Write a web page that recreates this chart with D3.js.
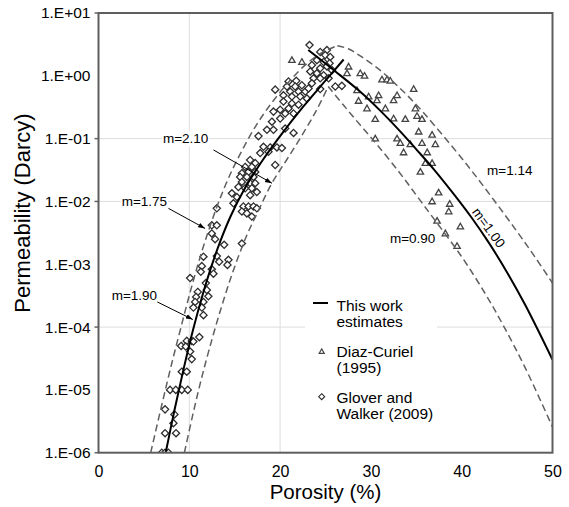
<!DOCTYPE html>
<html>
<head>
<meta charset="utf-8">
<script src="https://cdn.jsdelivr.net/npm/d3@7"></script>
<style>
  body { margin: 0; background: #fff; }
  svg text { font-family: "Liberation Sans", Arial, sans-serif; fill: #000; }
</style>
</head>
<body>
<div id="chart"></div>
<script>
// every pair is [porosity (%), log10 permeability (Darcy)]
const thisWorkLeft = [[7.4,-6],[8.4,-5.3],[9.4,-4.65],[10.4,-4.05],[11.4,-3.52],[12.4,-3.05],[13.4,-2.64],[14.6,-2.22],[16,-1.82],[18,-1.36],[20,-0.96],[22.5,-0.5],[24.8,-0.11],[27,0.26]];
const thisWorkRight = [[23.1,0.41],[26,0.08],[28.8,-0.25],[31,-0.55],[33.2,-0.88],[35,-1.17],[37,-1.5],[39,-1.86],[41,-2.24],[43,-2.66],[45,-3.13],[47,-3.65],[50,-4.52]];
const m175 = [[5.75,-6],[7,-5.22],[8.1,-4.56],[9,-4.05],[9.9,-3.55],[10.8,-3.08],[11.7,-2.65],[13,-2.1],[14.1,-1.7],[15.2,-1.36],[17.4,-0.78],[20,-0.26],[22.6,0.15],[24.6,0.37],[26.3,0.48]];
const m114 = [[26.3,0.48],[27.5,0.43],[29,0.3],[31,0.09],[33,-0.17],[35,-0.46],[37,-0.79],[40.6,-1.42],[43.5,-1.97],[46.1,-2.48],[48,-2.87],[50,-3.3]];
const m210 = [[9.46,-6],[10.3,-5.45],[11.2,-4.9],[12.2,-4.35],[13.5,-3.7],[14.8,-3.12],[16.3,-2.55],[17.6,-2.15],[19.1,-1.71],[20.8,-1.32],[22.4,-0.95],[24,-0.55],[25.3,-0.17]];
const m090 = [[25.3,-0.17],[27,-0.47],[28.8,-0.78],[30.7,-1.1],[33.2,-1.55],[35,-1.9],[36.9,-2.27],[39.9,-2.86],[42.6,-3.47],[44.6,-3.98],[47,-4.65],[50,-5.59]];

const diazCuriel = [[21.3,0.25],[22.4,0.22],[27.54,0.145],[27.37,0.04],[28.83,0.04],[29.3,0.0],[28.47,-0.23],[28.64,-0.4],
  [31.22,-0.06],[31.77,-0.06],[32.14,-0.08],[34.71,-0.21],[29.75,-0.33],[30.85,-0.31],[30.67,-0.39],[32.5,-0.39],[32.88,-0.31],
  [29.57,-0.52],[31.59,-0.52],[34.9,-0.52],[30.48,-0.69],[32.5,-0.68],[33.79,-0.69],[35.08,-0.64],[35.63,-0.69],[35.26,-0.89],
  [36.74,-0.94],[30.48,-1.0],[32.88,-1.0],[33.24,-1.07],[34.34,-1.09],[35.63,-1.07],[37.1,-1.09],[33.6,-1.22],[36.2,-1.22],
  [36.0,-1.39],[36.74,-1.39],[35.45,-1.53],[37.46,-1.86],[36.74,-2.0],[38.68,-2.04],[38.57,-2.16],[39.85,-2.4],[37.29,-2.31],
  [38.2,-2.51],[39.49,-2.71]];

const gloverWalker = [[12.84,-2.6],[13.84,-2.69],[15.79,-2.67],[11.56,-2.88],[13.03,-2.87],[14.31,-2.93],[13.29,-2.96],[11.38,-3.03],
  [12.48,-3.08],[11.27,-3.12],[14.2,-3.01],[12.66,-3.15],[10.09,-3.22],[11.82,-3.3],[10.93,-3.44],[11.93,-3.41],[10.75,-3.52],
  [12.1,-3.51],[10.64,-3.6],[11.56,-3.6],[10.45,-3.69],[11.38,-3.69],[11.56,-3.81],[11.11,-4.16],[9.72,-4.22],[10.27,-4.22],
  [9.1,-4.3],[9.61,-4.31],[10.45,-4.23],[10.09,-4.39],[10.27,-4.51],[9.17,-4.71],[9.72,-4.71],[7.88,-5],[8.51,-5],[9.17,-5],
  [9.83,-5],[7.33,-5.31],[8.36,-5.39],[8.25,-5.53],[7.33,-5.69],[8.54,-5.69],[6.97,-6],[7.33,-6],[7.7,-6],
  [20.93,-0.09],[21.78,-0.08],[20.75,-0.17],[21.66,-0.17],[22.4,-0.15],[21.11,-0.25],[22.03,-0.25],[22.77,-0.25],[19.46,-0.22],
  [20.37,-0.31],[21.3,-0.33],[22.21,-0.33],[22.95,-0.36],[20.37,-0.41],[21.3,-0.44],[22.03,-0.46],[20.93,-0.52],[20.01,-0.54],
  [19.27,-0.57],[20.56,-0.6],[21.48,-0.6],[20.01,-0.68],[19.1,-0.73],[20.56,-0.84],[18.55,-0.86],[19.27,-0.86],[17.62,-0.96],
  [21.48,-0.91],[18.17,-1.13],[18.91,-1.14],[19.65,-1.14],[18.72,-1.21],[17.81,-1.23],[20.2,-1.15],[19.46,-1.42],[16.7,-1.34],
  [17.26,-1.39],[16.15,-1.45],[16.89,-1.45],[16.52,-1.53],[15.79,-1.55],[17.26,-1.53],[15.6,-1.61],[16.34,-1.61],[17.07,-1.61],
  [15.79,-1.69],[16.7,-1.71],[17.26,-1.71],[15.41,-1.77],[16.15,-1.79],[16.89,-1.79],[14.69,-1.87],[15.24,-1.93],[16.7,-1.9],
  [17.44,-1.85],[14.86,-2.03],[15.96,-2.08],[16.52,-2.08],[17.07,-2.08],[15.79,-2.16],[16.34,-2.19],[17.44,-2.11],[16.89,-2.24],
  [13.03,-2.11],[12.48,-2.38],[13.03,-2.38],[12.48,-2.51],
  [23.24,0.49],[24.42,0.38],[25.16,0.41],[24.97,0.33],[25.52,0.3],[24.05,0.25],[24.79,0.22],[25.45,0.2],[23.5,0.17],
  [24.42,0.12],[25.16,0.15],[25.71,0.09],[23.32,0.07],[24.05,0.04],[24.79,0.01],[23.68,-0.04],[24.42,-0.04],[25.34,-0.04],
  [26.08,-0.17],[26.8,-0.16],[24.42,-0.21],[23.5,-0.12],[23.13,-0.2]];

const xTicks = [0, 10, 20, 30, 40, 50];
const yDecades = [1, 0, -1, -2, -3, -4, -5, -6];
const yTickLabels = ["1.E+01", "1.E+00", "1.E-01", "1.E-02", "1.E-03", "1.E-04", "1.E-05", "1.E-06"];
const xGrid = [10, 20];
const yGrid = [-1, -2, -4];

const labelText = ["m=2.10", "m=1.75", "m=1.90", "m=1.14", "m=0.90"];
const labelAt = [[7.1, -1.0], [2.55, -2.0], [1.45, -3.49], [42.8, -1.5], [32.1, -2.59]];
const arrowFrom = [[12.66, -1.18], [7.7, -2.11], [6.48, -3.6]];
const arrowTo = [[19.1, -1.71], [11.74, -2.43], [10.39, -3.88]];
const rotatedLabel = "m=1.00";
const rotatedAt = [42.2, -2.5];

const legendNames = [["This work", "estimates"], ["Diaz-Curiel", "(1995)"], ["Glover and", "Walker (2009)"]];

function init() {
    var w = 569;
    var h = 507;
    var left = 98.5, right = 552.5, top = 13, bottom = 452.7;

    var svg = d3.select("#chart").append("svg")
        .attr("width", w)
        .attr("height", h);

    var x = d3.scaleLinear().domain([0, 50]).range([left, right]);
    var y = d3.scaleLog().domain([1e-6, 10]).range([bottom, top]);
    var yv = d => y(Math.pow(10, d));

    var defs = svg.append("defs");
    defs.append("clipPath").attr("id", "plot")
        .append("rect").attr("x", left).attr("y", top)
        .attr("width", right - left).attr("height", bottom - top);

    defs.append("marker")
        .attr("id", "arrow").attr("viewBox", "0 0 10 10")
        .attr("refX", 10).attr("refY", 5)
        .attr("markerWidth", 7).attr("markerHeight", 7)
        .attr("orient", "auto")
        .append("path").attr("d", "M0,1.5L10,5L0,8.5z").attr("fill", "#000");

    // grid
    svg.append("g").selectAll("line").data(xGrid).join("line")
        .attr("x1", d => x(d)).attr("x2", d => x(d))
        .attr("y1", top).attr("y2", bottom)
        .attr("stroke", "#dcdcdc").attr("stroke-width", 1);
    svg.append("g").selectAll("line").data(yGrid).join("line")
        .attr("x1", left).attr("x2", right)
        .attr("y1", d => yv(d)).attr("y2", d => yv(d))
        .attr("stroke", "#dcdcdc").attr("stroke-width", 1);

    // axes
    var yAxis = d3.axisLeft(y)
        .tickValues(yDecades.map(d => Math.pow(10, d)))
        .tickFormat((d, i) => yTickLabels[i])
        .tickSize(0).tickPadding(8);
    var gy = svg.append("g").attr("transform", `translate(${left},0)`).call(yAxis);
    gy.select(".domain").remove();
    gy.selectAll("text").style("font-size", "15.5px").attr("fill", "#000");

    svg.append("g").selectAll("line").data([1, -1, -2, -4, -6]).join("line")
        .attr("x1", left - 4).attr("x2", left)
        .attr("y1", d => yv(d)).attr("y2", d => yv(d))
        .attr("stroke", "#666").attr("stroke-width", 1.5);

    var xAxis = d3.axisBottom(x).tickValues(xTicks).tickSize(0).tickPadding(13);
    var gx = svg.append("g").attr("transform", `translate(0,${bottom})`).call(xAxis);
    gx.select(".domain").remove();
    gx.selectAll("text").style("font-size", "16px").attr("fill", "#000");

    // points
    var pts = svg.append("g").attr("clip-path", "url(#plot)");
    pts.selectAll(".tri").data(diazCuriel).join("path")
        .attr("class", "tri")
        .attr("transform", d => `translate(${x(d[0])},${yv(d[1])})`)
        .attr("d", "M0,-3.3L3.2,2.3L-3.2,2.3Z")
        .attr("fill", "#fff").attr("stroke", "#444").attr("stroke-width", 1.3);
    pts.selectAll(".dia").data(gloverWalker).join("path")
        .attr("class", "dia")
        .attr("transform", d => `translate(${x(d[0])},${yv(d[1])})`)
        .attr("d", "M0,-3.6L3.6,0L0,3.6L-3.6,0Z")
        .attr("fill", "#fff").attr("stroke", "#2e2e2e").attr("stroke-width", 1.3);

    // curves
    var line = d3.line().x(d => x(d[0])).y(d => yv(d[1])).curve(d3.curveCatmullRom.alpha(0.5));
    var curves = svg.append("g").attr("clip-path", "url(#plot)");
    [m175, m114, m210, m090].forEach(c => {
        curves.append("path").datum(c).attr("d", line)
            .attr("fill", "none").attr("stroke", "#606060")
            .attr("stroke-width", 1.5).attr("stroke-dasharray", "7,4");
    });
    [thisWorkLeft, thisWorkRight].forEach(c => {
        curves.append("path").datum(c).attr("d", line)
            .attr("fill", "none").attr("stroke", "#000").attr("stroke-width", 2);
    });

    // frame
    svg.append("rect")
        .attr("x", left).attr("y", top)
        .attr("width", right - left).attr("height", bottom - top)
        .attr("fill", "none").attr("stroke", "#5e5e5e").attr("stroke-width", 2);

    // m labels
    var labels = svg.append("g");
    labelText.forEach((t, i) => {
        var g = labels.append("g");
        var txt = g.append("text")
            .attr("x", x(labelAt[i][0])).attr("y", yv(labelAt[i][1]))
            .attr("dy", "0.35em")
            .style("font-size", "13.5px")
            .text(t);
        var b = txt.node().getBBox();
        g.insert("rect", "text")
            .attr("x", b.x - 1).attr("y", b.y)
            .attr("width", b.width + 2).attr("height", b.height)
            .attr("fill", "#fff");
    });
    arrowFrom.forEach((a, i) => {
        labels.append("line")
            .attr("x1", x(a[0])).attr("y1", yv(a[1]))
            .attr("x2", x(arrowTo[i][0])).attr("y2", yv(arrowTo[i][1]))
            .attr("stroke", "#000").attr("stroke-width", 1)
            .attr("marker-end", "url(#arrow)");
    });
    labels.append("text")
        .attr("transform", `translate(${x(rotatedAt[0])},${yv(rotatedAt[1])}) rotate(54)`)
        .attr("text-anchor", "middle").attr("dy", "-0.3em")
        .style("font-size", "13.5px")
        .text(rotatedLabel);

    // legend
    var lg = svg.append("g").attr("transform", "translate(305,292)");
    lg.append("rect").attr("width", 132).attr("height", 130).attr("fill", "#fff");
    lg.append("line").attr("x1", 8).attr("x2", 23).attr("y1", 11).attr("y2", 11)
        .attr("stroke", "#000").attr("stroke-width", 2);
    lg.append("path").attr("transform", "translate(16.7,59.5)")
        .attr("d", "M0,-2.6L2.6,1.9L-2.6,1.9Z")
        .attr("fill", "#fff").attr("stroke", "#444").attr("stroke-width", 1.1);
    lg.append("path").attr("transform", "translate(16.7,104.7)")
        .attr("d", "M0,-3L3,0L0,3L-3,0Z")
        .attr("fill", "#fff").attr("stroke", "#2e2e2e").attr("stroke-width", 1.1);
    legendNames.forEach((n, i) => {
        var t = lg.append("text").attr("x", 31.5).attr("y", 18.5 + i * 46)
            .style("font-size", "15.5px");
        t.append("tspan").attr("x", 31.5).text(n[0]);
        t.append("tspan").attr("x", 31.5).attr("dy", 16.7).text(n[1]);
    });

    // axis titles
    svg.append("text")
        .attr("x", (left + right) / 2).attr("y", 499)
        .attr("text-anchor", "middle")
        .style("font-size", "20.5px")
        .text("Porosity (%)");
    svg.append("text")
        .attr("transform", "rotate(-90)")
        .attr("x", -213).attr("y", 29.5)
        .attr("text-anchor", "middle")
        .style("font-size", "22px")
        .text("Permeability (Darcy)");
}

window.onload = init;
</script>
</body>
</html>
